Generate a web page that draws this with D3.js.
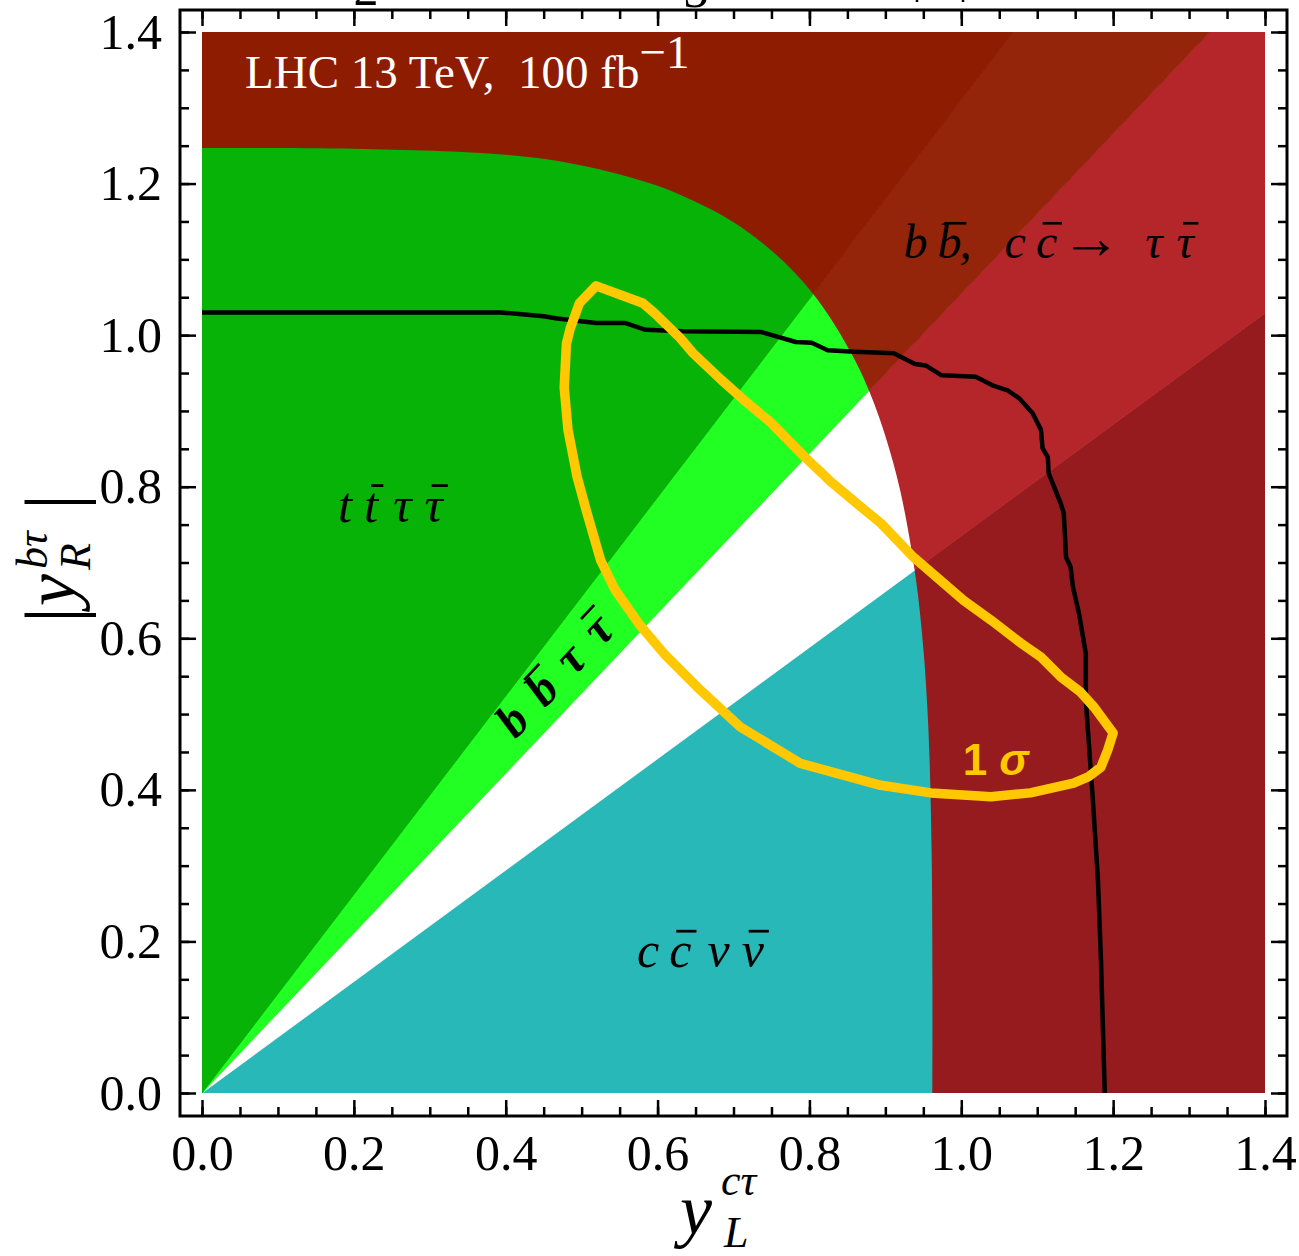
<!DOCTYPE html>
<html>
<head>
<meta charset="utf-8">
<script src="https://cdn.jsdelivr.net/npm/d3@7"></script>
<style>
  body { margin: 0; background: #fff; }
  svg { display: block; }
  text { font-family: "Liberation Serif", "Times New Roman", serif; white-space: pre; }
</style>
</head>
<body>
<div id="chartArea"></div>
<script>
// boundary of the allowed region (inside = coloured green/white/cyan)
let boundaryX = [0.000, 0.200, 0.400, 0.500, 0.600, 0.660, 0.700, 0.740, 0.780, 0.820, 0.860, 0.880, 0.900, 0.920, 0.940, 0.950, 0.955, 0.958, 0.961, 0.962, 0.962];
let boundaryY = [1.247, 1.246, 1.238, 1.224, 1.197, 1.171, 1.149, 1.120, 1.083, 1.034, 0.967, 0.923, 0.867, 0.793, 0.680, 0.587, 0.514, 0.447, 0.316, 0.150, 0.000];

// rays through the origin splitting the plane (slopes y/x)
let raySlopes = [0.735, 1.055, 1.31];

// black exclusion contour
let lineX = [0.000, 0.393, 0.450, 0.468, 0.519, 0.558, 0.584, 0.633, 0.737, 0.782, 0.803, 0.824, 0.859, 0.911, 0.939, 0.953, 0.974, 1.019, 1.043, 1.061, 1.076, 1.094, 1.105, 1.107, 1.114, 1.115, 1.131, 1.135, 1.138, 1.144, 1.147, 1.155, 1.164, 1.164, 1.168, 1.173, 1.175, 1.180, 1.184, 1.189];
let lineY = [1.030, 1.030, 1.025, 1.022, 1.016, 1.016, 1.007, 1.005, 1.004, 0.991, 0.990, 0.980, 0.978, 0.976, 0.962, 0.960, 0.947, 0.945, 0.933, 0.927, 0.917, 0.897, 0.875, 0.851, 0.839, 0.818, 0.778, 0.765, 0.707, 0.694, 0.668, 0.633, 0.580, 0.518, 0.462, 0.391, 0.360, 0.281, 0.175, 0.000];

// 1 sigma contour (closed)
let sigmaX = [0.519, 0.581, 0.596, 0.629, 0.647, 0.684, 0.713, 0.750, 0.794, 0.830, 0.873, 0.894, 0.937, 1.003, 1.039, 1.078, 1.105, 1.131, 1.157, 1.175, 1.200, 1.193, 1.184, 1.167, 1.148, 1.091, 1.039, 0.960, 0.894, 0.788, 0.709, 0.656, 0.610, 0.577, 0.544, 0.525, 0.506, 0.494, 0.482, 0.477, 0.480, 0.485, 0.497];
let sigmaY = [1.065, 1.042, 1.029, 0.997, 0.976, 0.941, 0.915, 0.884, 0.839, 0.805, 0.769, 0.752, 0.707, 0.650, 0.624, 0.594, 0.575, 0.549, 0.529, 0.509, 0.475, 0.453, 0.430, 0.417, 0.409, 0.396, 0.391, 0.396, 0.406, 0.435, 0.483, 0.532, 0.578, 0.617, 0.664, 0.703, 0.769, 0.813, 0.875, 0.931, 0.989, 1.009, 1.042];

let majorTicks = [0.0, 0.2, 0.4, 0.6, 0.8, 1.0, 1.2, 1.4];
let minorTicks = d3.range(0, 1.4001, 0.05);

// wedge colours from the lowest wedge upwards
let outsideColors = ['#951b1e', '#b5262b', '#95250a', '#8e1c00'];
let insideColors = ['#28b8b8', '#ffffff', '#22ff22', '#07b307'];

const W = 1299, H = 1256;
let frame = { left: 180, right: 1287, top: 10, bottom: 1116 };

let svg = d3.select('#chartArea').append('svg')
   .attr('width', W)
   .attr('height', H);

let x = d3.scaleLinear().domain([0, 1.4]).range([202, 1265]);
let y = d3.scaleLinear().domain([0, 1.4]).range([1093, 32]);

let defs = svg.append('defs');
defs.append('clipPath').attr('id', 'plotClip').append('rect')
   .attr('x', x(0)).attr('y', y(1.4))
   .attr('width', x(1.4) - x(0)).attr('height', y(0) - y(1.4));

let boundary = d3.zip(boundaryX, boundaryY);
let boundaryLine = d3.line()
   .x(d => x(d[0])).y(d => y(d[1]))
   .curve(d3.curveCatmullRom.alpha(0.5));
defs.append('clipPath').attr('id', 'insideClip').append('path')
   .attr('d', boundaryLine(boundary) + `L${x(0)},${y(0)}Z`);

// wedges between consecutive rays
let slopes = [0, ...raySlopes, Infinity];
let far = s => (s === Infinity ? [0, 50] : [50, 50 * s]);
let wedges = d3.range(slopes.length - 1).map(i => [[0, 0], far(slopes[i]), far(slopes[i + 1])]);
let wedgePath = d => 'M' + d.map(p => `${x(p[0])},${y(p[1])}`).join('L') + 'Z';

let plot = svg.append('g').attr('clip-path', 'url(#plotClip)');

plot.append('g').selectAll('path').data(wedges).join('path')
   .attr('d', wedgePath)
   .attr('fill', (d, i) => outsideColors[i])
   .attr('stroke', (d, i) => outsideColors[i])
   .attr('stroke-width', 0.8);

plot.append('g').attr('clip-path', 'url(#insideClip)')
   .selectAll('path').data(wedges).join('path')
   .attr('d', wedgePath)
   .attr('fill', (d, i) => insideColors[i])
   .attr('stroke', (d, i) => insideColors[i])
   .attr('stroke-width', 0.8);

plot.append('path')
   .datum(d3.zip(lineX, lineY))
   .attr('d', d3.line().x(d => x(d[0])).y(d => y(d[1])))
   .attr('fill', 'none')
   .attr('stroke', '#000')
   .attr('stroke-width', 4.5)
   .attr('stroke-linejoin', 'round');

plot.append('path')
   .datum(d3.zip(sigmaX, sigmaY))
   .attr('d', d3.line().x(d => x(d[0])).y(d => y(d[1])).curve(d3.curveLinearClosed))
   .attr('fill', 'none')
   .attr('stroke', '#ffc800')
   .attr('stroke-width', 9.5)
   .attr('stroke-linejoin', 'round');

// text with per-glyph gaps and overbars
let mathText = function (g, parts, size, opts) {
   let t = g.append('text')
      .attr('font-size', size)
      .attr('font-style', opts.italic ? 'italic' : 'normal')
      .attr('font-weight', opts.bold ? 'bold' : 'normal')
      .attr('fill', opts.fill || '#000');
   if (opts.family) t.style('font-family', opts.family);
   parts.forEach(p => {
      let s = t.append('tspan').attr('dx', p.gap || 0).text(p.s);
      if (p.style) s.attr('font-style', p.style);
      if (p.size) s.attr('font-size', p.size);
   });
   let i = 0;
   parts.forEach(p => {
      if (p.bar) {
         let e = t.node().getExtentOfChar(i);
         g.append('line')
            .attr('x1', e.x + size * 0.14).attr('x2', e.x + e.width + size * 0.1)
            .attr('y1', -size * 0.72).attr('y2', -size * 0.72)
            .attr('stroke', opts.fill || '#000')
            .attr('stroke-width', size * 0.055);
      }
      i += p.s.length;
   });
   return t;
};

let at = (vx, vy, rot) => svg.append('g')
   .attr('transform', `translate(${x(vx)},${y(vy)})` + (rot ? ` rotate(${rot})` : ''));

mathText(at(0.179, 0.753), [
   { s: 't' }, { s: 't', gap: 12, bar: true }, { s: 'τ', gap: 15 }, { s: 'τ', gap: 13, bar: true }
], 51, { italic: true });

mathText(at(0.573, 0.166), [
   { s: 'c' }, { s: 'c', gap: 10, bar: true }, { s: 'ν', gap: 16 }, { s: 'ν', gap: 12, bar: true }
], 50, { italic: true });

mathText(at(0.924, 1.102), [
   { s: 'b' }, { s: 'b', gap: 10, bar: true }, { s: ',', gap: -2 },
   { s: 'c', gap: 33 }, { s: 'c', gap: 10, bar: true },
   { s: '→', gap: 4, style: 'normal', size: 60 },
   { s: 'τ', gap: 24 }, { s: 'τ', gap: 14, bar: true }
], 48, { italic: true });

mathText(at(0.413, 0.466, -47), [
   { s: 'b' }, { s: 'b', gap: 19, bar: true }, { s: 'τ', gap: 19 }, { s: 'τ', gap: 19, bar: true }
], 48, { italic: true, bold: true });

mathText(at(1.002, 0.420), [
   { s: '1' }, { s: 'σ', gap: 12, style: 'italic' }
], 44, { bold: true, fill: '#ffc800', family: '"Liberation Sans", Arial, sans-serif' });

// luminosity label
let lhc = svg.append('text')
   .attr('x', 245).attr('y', 88)
   .attr('font-size', 47)
   .attr('fill', '#fff')
   .text('LHC 13 TeV,  100 fb');
lhc.append('tspan').attr('dy', -20).text('−1');

// frame ticks
let tickStyle = g => {
   g.select('.domain').remove();
   g.selectAll('.tick line').attr('stroke', '#000').attr('stroke-width', 2.5);
};
let axes = [
   [d3.axisBottom, x, `translate(0,${frame.bottom})`, true],
   [d3.axisTop, x, `translate(0,${frame.top})`, false],
   [d3.axisLeft, y, `translate(${frame.left},0)`, true],
   [d3.axisRight, y, `translate(${frame.right},0)`, false]
];
axes.forEach(([axisFn, sc, tr, labels]) => {
   svg.append('g').attr('transform', tr)
      .call(axisFn(sc).tickValues(minorTicks).tickSize(-9).tickFormat(''))
      .call(tickStyle);
   let g = svg.append('g').attr('transform', tr)
      .call(axisFn(sc).tickValues(majorTicks).tickSize(-16)
         .tickPadding(labels ? 18 : 0)
         .tickFormat(labels ? d3.format('.1f') : ''))
      .call(tickStyle);
   g.attr('font-family', null).attr('font-size', null);
   g.selectAll('.tick text')
      .attr('font-size', 50)
      .attr('fill', '#000');
});

svg.append('rect')
   .attr('x', frame.left).attr('y', frame.top)
   .attr('width', frame.right - frame.left)
   .attr('height', frame.bottom - frame.top)
   .attr('fill', 'none')
   .attr('stroke', '#000')
   .attr('stroke-width', 3);

// cut-off title glyphs above the frame (the reference shows only their lower edges)
[[366, 5, '2'], [696, 7, '3'], [917, -9, '|'], [963, -9, '|']].forEach(([px, py, s]) => {
   svg.append('text').attr('x', px).attr('y', py)
      .attr('text-anchor', 'middle').attr('font-size', 50).text(s);
});

// x axis title
svg.append('text').attr('x', 680).attr('y', 1234)
   .attr('font-size', 72).attr('font-style', 'italic').text('y');
svg.append('text').attr('x', 724).attr('y', 1247)
   .attr('font-size', 44).attr('font-style', 'italic').text('L');
svg.append('text').attr('x', 721).attr('y', 1195)
   .attr('font-size', 44).attr('font-style', 'italic').text('cτ');

// y axis title
let yt = svg.append('g').attr('transform', 'translate(75,558) rotate(-90)');
yt.append('text').attr('x', -57).attr('y', 4).attr('text-anchor', 'middle')
   .attr('font-size', 78).text('|');
yt.append('text').attr('x', -48).attr('y', 0)
   .attr('font-size', 72).attr('font-style', 'italic').text('y');
yt.append('text').attr('x', -12).attr('y', 15)
   .attr('font-size', 44).attr('font-style', 'italic').text('R');
yt.append('text').attr('x', -11).attr('y', -28)
   .attr('font-size', 44).attr('font-style', 'italic').text('bτ');
yt.append('text').attr('x', 56).attr('y', 4).attr('text-anchor', 'middle')
   .attr('font-size', 78).text('|');
</script>
</body>
</html>
